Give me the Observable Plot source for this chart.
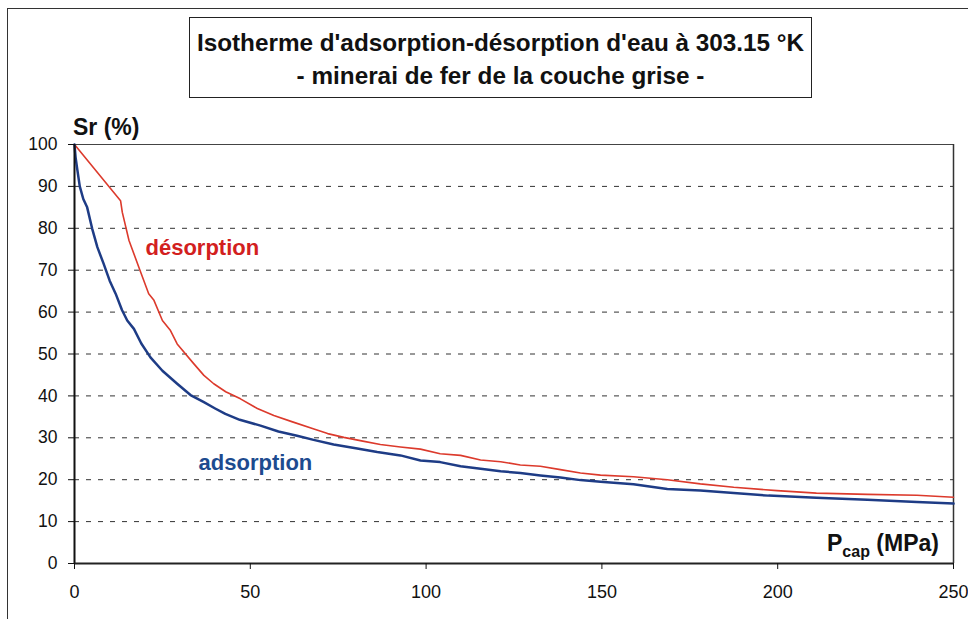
<!DOCTYPE html>
<html>
<head>
<meta charset="utf-8">
<script src="https://cdn.jsdelivr.net/npm/d3@7"></script>
<script src="https://cdn.jsdelivr.net/npm/@observablehq/plot@0.6"></script>
<style>
  html, body { margin: 0; padding: 0; background: #fff; }
  #wrap { position: relative; width: 968px; height: 619px; overflow: hidden; font-family: "Liberation Sans", Arial, sans-serif; }
  #frame { position: absolute; left: 7px; top: 8px; width: 1000px; height: 700px; border: 1.5px solid #333; box-sizing: border-box; pointer-events: none; }
  #titlebox { position: absolute; left: 189px; top: 17px; width: 623px; height: 81px; border: 1.5px solid #222; box-sizing: border-box; background: #fff; }
  .tline { position: absolute; left: 0; width: 100%; text-align: center; font-weight: bold; font-size: 24.3px; color: #111; white-space: nowrap; }
  svg { position: absolute; left: 0; top: 0; }
</style>
</head>
<body>
<div id="wrap">
  <div id="chart"></div>
  <div id="frame"></div>
  <div id="titlebox">
    <div class="tline" id="t1" style="top:11px"></div>
    <div class="tline" id="t2" style="top:44px"></div>
  </div>
</div>
<script>
// ---- data ----
const titleLines = ["Isotherme d'adsorption-désorption d'eau à 303.15 °K", "- minerai de fer de la couche grise -"];
const yLabel = "Sr (%)";
const xLabelMain = "P", xLabelSub = "cap", xLabelUnit = " (MPa)";
const xTicks = [0, 50, 100, 150, 200, 250];
const yTicks = [0, 10, 20, 30, 40, 50, 60, 70, 80, 90, 100];
const gridLines = [10, 20, 30, 40, 50, 60, 70, 80, 90];
const seriesNames = ["adsorption", "désorption"];

const adsP  = [0, 0.3, 0.8, 1.5, 2.5, 3.6, 5.0, 6.5, 8.3, 10, 11.7, 13.5, 15, 16.9, 19, 21.6, 25, 29.2, 33, 36.8, 40, 42.9, 47, 52.9, 58, 63.3, 68, 73.7, 80, 86.1, 92.7, 98.4, 104, 109.8, 115.5, 121.2, 126.8, 132.5, 138.2, 143.9, 149.6, 159, 168.6, 178, 187.5, 197.4, 211, 225.5, 239.6, 250];
const adsSr = [100, 97, 94, 90, 87, 85, 80, 75.5, 71.5, 67.5, 64.4, 60.5, 58, 56, 52.5, 49.2, 46, 42.9, 40.2, 38.5, 37, 35.7, 34.3, 32.9, 31.5, 30.5, 29.5, 28.4, 27.5, 26.6, 25.8, 24.6, 24.2, 23.2, 22.6, 22.0, 21.6, 21.0, 20.5, 19.9, 19.5, 18.9, 17.8, 17.4, 16.8, 16.2, 15.7, 15.2, 14.7, 14.3];

const desP  = [0, 13.1, 13.6, 15.5, 18.3, 21.1, 22.6, 25, 27.3, 29.2, 33.9, 36.8, 39.6, 43, 47.2, 52, 56.7, 62, 68.1, 72, 76.6, 82, 87, 92.7, 98.4, 104, 109.8, 115.5, 121.2, 126.8, 132.5, 138.2, 143.9, 149.6, 159, 168.6, 178, 187.5, 199.8, 211, 225.5, 239.6, 250];
const desSr = [100, 86.6, 83.8, 77.1, 70.7, 64.4, 62.8, 58, 55.6, 52.4, 47.7, 44.9, 42.9, 41, 39.3, 37, 35.3, 33.8, 32.1, 31, 30.1, 29.2, 28.4, 27.8, 27.3, 26.2, 25.8, 24.7, 24.3, 23.5, 23.2, 22.4, 21.6, 21.1, 20.7, 20.0, 19.0, 18.2, 17.4, 16.8, 16.5, 16.3, 15.8];

const ads = adsP.map((p, i) => ({p, sr: adsSr[i]}));
const des = desP.map((p, i) => ({p, sr: desSr[i]}));

document.getElementById("t1").textContent = titleLines[0];
document.getElementById("t2").textContent = titleLines[1];

const redLine = "#dc3a2c", blueLine = "#1e3c86";
const redText = "#d2201e", blueText = "#1d4b8f";

const chart = Plot.plot({
  width: 968,
  height: 619,
  marginLeft: 74,
  marginRight: 15,
  marginTop: 144,
  marginBottom: 56,
  style: { fontFamily: "'Liberation Sans', Arial, sans-serif", color: "#111", background: "transparent", overflow: "visible" },
  x: { domain: [0, 250] },
  y: { domain: [0, 100] },
  marks: [
    Plot.ruleY(gridLines, { stroke: "#333", strokeWidth: 1, strokeDasharray: "5,7" }),
    Plot.ruleY([100], { stroke: "#444", strokeWidth: 1.2 }),
    Plot.ruleX([250], { stroke: "#333", strokeWidth: 1.5 }),
    Plot.line(des, { x: "p", y: "sr", stroke: redLine, strokeWidth: 1.6 }),
    Plot.line(ads, { x: "p", y: "sr", stroke: blueLine, strokeWidth: 2.5 }),
    Plot.ruleX([0], { stroke: "#111", strokeWidth: 2 }),
    Plot.ruleY([0], { stroke: "#222", strokeWidth: 1.8 }),
    Plot.axisY(yTicks, { tickSize: 6, tickPadding: 11, fontSize: 17.5, label: null, stroke: "#111" }),
    Plot.axisX(xTicks, { tickSize: 6, tickPadding: 16, fontSize: 18, label: null, stroke: "#111" }),
    Plot.text([seriesNames[1]], { x: 20.2, y: 75.2, text: d => d, textAnchor: "start", fill: redText, fontSize: 22, fontWeight: "bold" }),
    Plot.text([seriesNames[0]], { x: 35.3, y: 24.1, text: d => d, textAnchor: "start", fill: blueText, fontSize: 22, fontWeight: "bold" })
  ]
});

const svg = d3.select(chart);
const font = "'Liberation Sans', Arial, sans-serif";

// y axis label
svg.append("text")
  .attr("x", 73).attr("y", 135)
  .attr("text-anchor", "start")
  .attr("font-family", font)
  .attr("font-weight", "bold").attr("font-size", 23).attr("fill", "#111")
  .text(yLabel);

// x axis label with subscript
const xl = svg.append("text")
  .attr("x", 827).attr("y", 551)
  .attr("text-anchor", "start")
  .attr("font-family", font)
  .attr("font-weight", "bold").attr("font-size", 23).attr("fill", "#111");
xl.append("tspan").text(xLabelMain);
xl.append("tspan").attr("font-size", 16).attr("dy", 6).text(xLabelSub);
xl.append("tspan").attr("dy", -6).text(xLabelUnit);

document.getElementById("chart").appendChild(chart);
</script>
</body>
</html>
